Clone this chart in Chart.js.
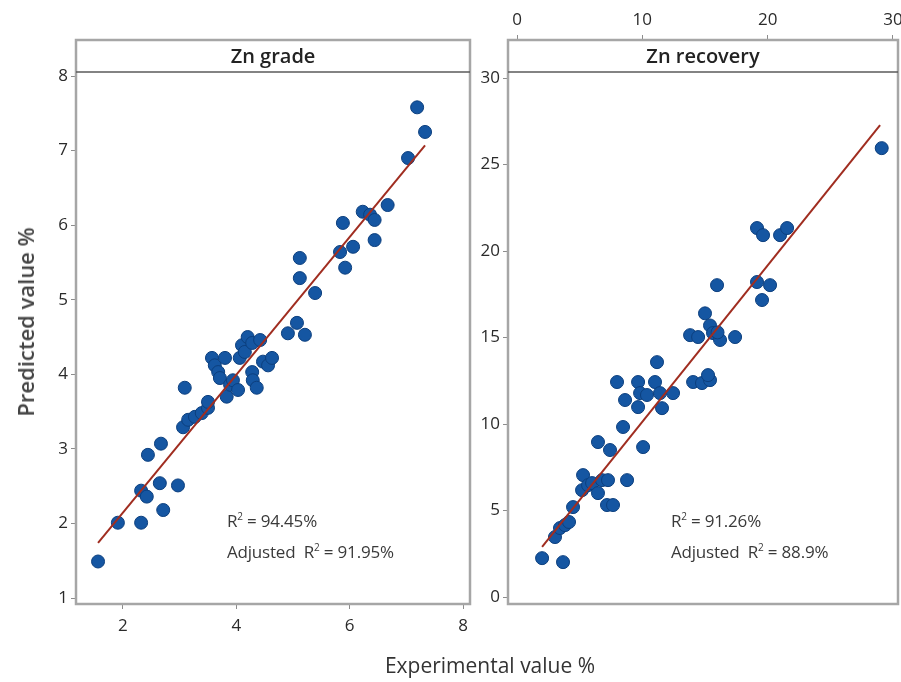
<!DOCTYPE html>
<html>
<head>
<meta charset="utf-8">
<script src="https://cdn.jsdelivr.net/npm/chart.js@4.4.1/dist/chart.umd.min.js"></script>
<style>
  html, body { margin: 0; padding: 0; background: #fff; width: 901px; height: 682px; overflow: hidden; position: relative; }
  canvas { position: absolute; top: 0; }
  #gradeChart { left: 0; }
  #recoveryChart { left: 480px; }
  .txt { position: absolute; white-space: nowrap; color: #333; font-family: "Open Sans", sans-serif; }
  .stat { font-size: 17px; line-height: 20px; color: #3a3a3a; letter-spacing: -0.2px; }
  .stat sup { font-size: 10px; vertical-align: 7px; line-height: 0; }
  #yTitle { left: 25px; top: 322px; transform: translate(-50%, -50%) rotate(-90deg); font-size: 22px; font-weight: 600; color: #444; }
  #xTitle { left: 490px; top: 665px; transform: translate(-50%, -50%); font-size: 21px; color: #333; }
</style>
</head>
<body>
<canvas id="gradeChart" width="480" height="682"></canvas>
<canvas id="recoveryChart" width="440" height="682"></canvas>

<div class="txt" id="yTitle">Predicted value %</div>
<div class="txt" id="xTitle">Experimental value %</div>
<div class="txt stat" style="left:227px; top:511px;">R<sup>2</sup> = 94.45%</div>
<div class="txt stat" style="left:227px; top:542px;">Adjusted&nbsp; R<sup>2</sup> = 91.95%</div>
<div class="txt stat" style="left:671px; top:511px;">R<sup>2</sup> = 91.26%</div>
<div class="txt stat" style="left:671px; top:542px;">Adjusted&nbsp; R<sup>2</sup> = 88.9%</div>

<script>
// Zn grade: experimental vs predicted (%)
const gradeExperimental = [
  1.56, 1.91, 2.32, 2.32, 2.42, 2.44, 2.67, 2.65, 2.97, 2.71,
  3.09, 3.06, 3.15, 3.27, 3.39, 3.50, 3.50, 3.57, 3.62, 3.68,
  3.71, 3.80, 3.83, 3.89, 3.94, 4.03, 4.06, 4.10, 4.15, 4.20,
  4.28, 4.28, 4.29, 4.36, 4.42, 4.47, 4.56, 4.63, 4.91, 5.07,
  5.21, 5.39, 5.12, 5.12, 5.83, 5.92, 5.88, 6.06, 6.23, 6.36,
  6.44, 6.44, 6.67, 7.03, 7.19, 7.33
];
const gradePredicted = [
  1.49, 2.01, 2.01, 2.44, 2.36, 2.92, 3.07, 2.54, 2.51, 2.18,
  3.82, 3.29, 3.39, 3.43, 3.48, 3.55, 3.63, 4.22, 4.12, 4.03,
  3.95, 4.22, 3.70, 3.86, 3.92, 3.79, 4.22, 4.39, 4.30, 4.50,
  4.42, 4.03, 3.92, 3.82, 4.46, 4.17, 4.12, 4.22, 4.55, 4.69,
  4.53, 5.09, 5.29, 5.56, 5.64, 5.43, 6.03, 5.71, 6.18, 6.14,
  6.07, 5.80, 6.27, 6.90, 7.58, 7.25
];
// fitted line end points
const gradeFitX = [1.56, 7.33];
const gradeFitY = [1.74, 7.07];

// Zn recovery: experimental vs predicted (%)
const recoveryExperimental = [
  2.0, 3.67, 3.03, 3.43, 3.83, 4.15, 4.47, 5.19, 5.27, 5.67,
  5.99, 6.46, 6.78, 7.26, 8.78, 7.18, 7.66, 6.46, 7.42, 8.46,
  10.06, 7.98, 8.62, 9.66, 9.82, 9.66, 10.37, 11.01, 11.17, 11.41,
  11.57, 12.45, 13.81, 14.45, 15.0, 15.4, 15.64, 16.2, 16.0, 17.4,
  14.05, 14.76, 15.4, 15.24, 15.96, 19.15, 19.63, 20.99, 21.55, 19.15,
  20.19, 19.55, 29.1
];
const recoveryPredicted = [
  2.25, 2.02, 3.47, 3.99, 4.16, 4.34, 5.2, 6.18, 7.05, 6.47,
  6.59, 6.01, 6.76, 6.76, 6.76, 5.32, 5.32, 8.96, 8.5, 9.83,
  8.67, 12.43, 11.39, 12.43, 11.79, 10.98, 11.68, 12.43, 13.58, 11.79,
  10.92, 11.79, 15.14, 15.03, 16.4, 15.7, 15.26, 14.86, 15.3, 15.03,
  12.43, 12.37, 12.54, 12.83, 18.03, 21.33, 20.92, 20.92, 21.33, 18.21,
  18.03, 17.17, 25.95
];
const recoveryFitX = [2.0, 28.97];
const recoveryFitY = [2.9, 27.28];

// tick labels
const gradeXTicks = [2, 4, 6, 8];
const gradeYTicks = [1, 2, 3, 4, 5, 6, 7, 8];
const recoveryXTicks = [0, 10, 20, 30];
const recoveryYTicks = [0, 5, 10, 15, 20, 25, 30];

const panelTitles = ['Zn grade', 'Zn recovery'];

const toPoints = (xs, ys) => xs.map((x, i) => ({ x: x, y: ys[i] }));
const fixedTicks = list => scale => { scale.ticks = list.map(v => ({ value: v })); };

const tickFont = { family: '"Open Sans", sans-serif', size: 17 };
const tickColor = '#2a2a2a';

// frame around each panel plus the title strip on top
const panelFrame = {
  id: 'panelFrame',
  afterDraw(chart, args, opts) {
    const { ctx, chartArea: a } = chart;
    const w = a.right - a.left;
    ctx.save();
    ctx.fillStyle = '#fff';
    ctx.fillRect(a.left, a.top, w, opts.strip);
    ctx.strokeStyle = '#a6a6a6';
    ctx.lineWidth = 2.5;
    ctx.strokeRect(a.left, a.top, w, a.bottom - a.top);
    ctx.strokeStyle = '#5a5a5a';
    ctx.lineWidth = 1.5;
    ctx.beginPath();
    ctx.moveTo(a.left, a.top + opts.strip);
    ctx.lineTo(a.right, a.top + opts.strip);
    ctx.stroke();
    ctx.fillStyle = '#222';
    ctx.font = '600 20px "Open Sans", sans-serif';
    ctx.textAlign = 'center';
    ctx.textBaseline = 'middle';
    ctx.fillText(opts.text, (a.left + a.right) / 2, a.top + opts.strip / 2 + 1);
    ctx.restore();
  }
};

function panel(canvasId, cfg) {
  return new Chart(document.getElementById(canvasId), {
    data: {
      datasets: [
        {
          type: 'line',
          data: toPoints(cfg.fitX, cfg.fitY),
          borderColor: '#a02d20',
          borderWidth: 2,
          pointRadius: 0,
          fill: false,
          order: 0
        },
        {
          type: 'scatter',
          data: toPoints(cfg.xs, cfg.ys),
          backgroundColor: '#1556a2',
          borderColor: '#0c3f7e',
          borderWidth: 1,
          pointRadius: 6.5,
          order: 1
        }
      ]
    },
    options: {
      responsive: false,
      animation: false,
      layout: { padding: cfg.padding },
      plugins: {
        legend: { display: false },
        tooltip: { enabled: false },
        panelFrame: { text: cfg.title, strip: 32 }
      },
      scales: {
        x: {
          type: 'linear',
          position: cfg.xPosition,
          min: cfg.xMin, max: cfg.xMax,
          afterBuildTicks: fixedTicks(cfg.xTicks),
          afterFit: s => { s.height = 30; s.paddingLeft = 0; s.paddingRight = 0; },
          grid: { display: true, drawOnChartArea: false, drawTicks: true, tickLength: 5, color: '#8c8c8c' },
          border: { display: false },
          ticks: { font: tickFont, color: tickColor, padding: cfg.xPad, maxRotation: 0 }
        },
        y: {
          type: 'linear',
          min: cfg.yMin, max: cfg.yMax,
          afterBuildTicks: fixedTicks(cfg.yTicks),
          afterFit: s => { s.width = cfg.yWidth; },
          grid: { display: true, drawOnChartArea: false, drawTicks: true, tickLength: 5, color: '#8c8c8c' },
          border: { display: false },
          ticks: { font: tickFont, color: tickColor, padding: 3 }
        }
      }
    },
    plugins: [panelFrame]
  });
}

panel('gradeChart', {
  title: panelTitles[0],
  xs: gradeExperimental, ys: gradePredicted,
  fitX: gradeFitX, fitY: gradeFitY,
  xTicks: gradeXTicks, yTicks: gradeYTicks,
  xMin: 1.171, xMax: 8.123, yMin: 0.92, yMax: 8.483,
  xPosition: 'bottom', xPad: 7,
  yWidth: 76,
  padding: { left: 0, right: 10, top: 40, bottom: 48 }
});

panel('recoveryChart', {
  title: panelTitles[1],
  xs: recoveryExperimental, ys: recoveryPredicted,
  fitX: recoveryFitX, fitY: recoveryFitY,
  xTicks: recoveryXTicks, yTicks: recoveryYTicks,
  xMin: -0.72, xMax: 30.4, yMin: -0.40, yMax: 32.2,
  xPosition: 'top', xPad: 5,
  yWidth: 28,
  padding: { left: 0, right: 22, top: 10, bottom: 78 }
});
</script>
</body>
</html>
